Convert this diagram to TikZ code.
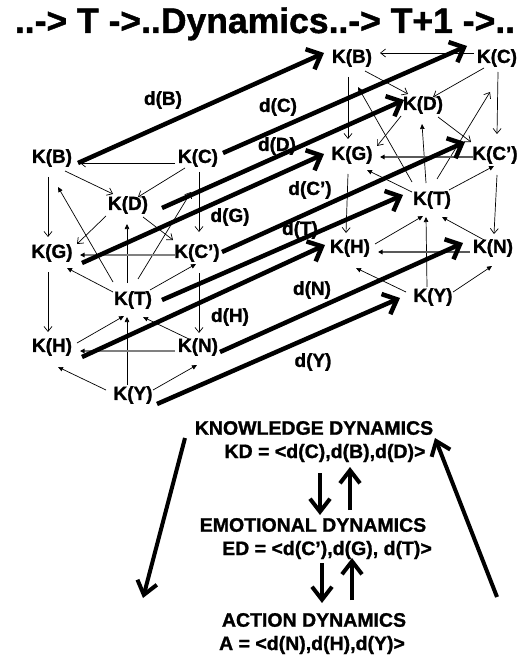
\documentclass[tikz,border=0pt]{standalone}
\usepackage{fontspec}
\setmainfont{Liberation Sans}
\newfontfamily\boldsans{Liberation Sans Bold}[FakeBold=1.2]
\usetikzlibrary{arrows.meta}
\newcommand\ed[5]{\draw[#1] ([shift={(#3)}]#2.center) -- ([shift={(#5)}]#4.center);}
\newcommand\graphedges[3]{%
  \ed{ov}{#1C}{-23,#3}{#1B}{28,#3}
  \ed{ov}{#1B}{13,13}{#1D}{-15,-11}
  \ed{ov}{#1C}{-13,10}{#1D}{10,-8}
  \ed{ov}{#1B}{-4,19}{#1G}{-4,-16}
  \ed{ov}{#1C}{1,14}{#1Cp}{2,-21}
  \ed{ov}{#1D}{-22,11}{#1G}{25,-9}
  \ed{ov}{#1D}{15,12}{#1Cp}{-24,-13}
  \ed{ov}{#1G}{-4,19}{#1H}{-4,-15}
  \ed{ov}{#1Cp}{2,20}{#1N}{1,-14}
  \ed{fv}{#1T}{-20,-18}{#1B}{6,29}
  \ed{fv}{#1T}{-6,-17}{#1D}{-1,19}
  \ed{ov}{#1T}{5,-21}{#1C}{-7,34}
  \ed{fv}{#1T}{-20,-8}{#1G}{15,15}
  \ed{fv}{#1T}{17,-10}{#1Cp}{-1,11}
  \ed{gv=#2}{#1Cp}{-22,2}{#1G}{28,2}
  \ed{fv}{#1H}{25,-4}{#1T}{-9,16}
  \ed{fv}{#1Y}{-6,-10}{#1T}{-6,17}
  \ed{fv}{#1N}{-7,-7}{#1T}{10,17}
  \ed{gv=#2}{#1N}{-23,4}{#1H}{28,4}
  \ed{fv}{#1Y}{-27,-5}{#1H}{6,20}
  \ed{fv}{#1Y}{20,-5}{#1N}{-1,18}
}
\begin{document}
\begin{tikzpicture}[x=1pt,y=-1pt,
  kn/.style={font=\boldsans\fontsize{19}{22}\selectfont, inner sep=1pt},
  lbl/.style={font=\boldsans\fontsize{19}{22}\selectfont, inner sep=1pt},
  bt/.style={font=\boldsans\fontsize{19.5}{22}\selectfont, inner sep=1pt},
  ttl/.style={font=\boldsans\fontsize{35.5}{40}\selectfont, inner sep=0pt},
  ov/.style={line width=0.7pt, -{Straight Barb[length=5pt,width=8pt]}},
  fv/.style={line width=0.7pt, -{Triangle[length=5pt,width=4.5pt]}},
  gv/.style={line width=1.4pt, draw=#1, -{Triangle[length=4.5pt,width=4.5pt,color=black]}},
  big/.style={line width=4.5pt, -{Straight Barb[length=12pt,width=22pt]}},
  mid/.style={line width=4pt, -{Straight Barb[length=13pt,width=20pt]}},
]
\useasboundingbox (0,0) rectangle (518,660);
\fill[white] (0,0) rectangle (518,660);

\node[ttl, anchor=base] (title) at (265,33) {..-> T ->..Dynamics..-> T+1 ->..};

% left graph (time T)
\node[kn] (LB) at (52,158) {K(B)};
\node[kn] (LC) at (198,158) {K(C)};
\node[kn] (LD) at (128,205) {K(D)};
\node[kn] (LG) at (52,253) {K(G)};
\node[kn] (LCp) at (197,253) {K(C’)};
\node[kn] (LT) at (133,300) {K(T)};
\node[kn] (LH) at (52,347) {K(H)};
\node[kn] (LN) at (198,347) {K(N)};
\node[kn] (LY) at (133,395) {K(Y)};

% right graph (time T+1)
\node[kn] (RB) at (352,58) {K(B)};
\node[kn] (RC) at (497,58) {K(C)};
\node[kn] (RD) at (423,105) {K(D)};
\node[kn] (RG) at (352,155) {K(G)};
\node[kn] (RCp) at (495,155) {K(C’)};
\node[kn] (RT) at (432,200) {K(T)};
\node[kn] (RH) at (350,248) {K(H)};
\node[kn] (RN) at (493,248) {K(N)};
\node[kn] (RY) at (433,297) {K(Y)};

\graphedges{L}{gray}{5}
\graphedges{R}{black!65}{-5}

% dynamics arrows
\draw[big] ([shift={(26,5)}]LB.center) -- ([shift={(-28,-5)}]RB.center);
\draw[big] ([shift={(25,-5)}]LC.center) -- ([shift={(-30,-12)}]RC.center);
\draw[big] ([shift={(34,3)}]LD.center) -- ([shift={(-19,-5)}]RD.center);
\draw[big] ([shift={(30,10)}]LG.center) -- ([shift={(-28,-1)}]RG.center);
\draw[big] ([shift={(25,-1)}]LCp.center) -- ([shift={(-30,-13)}]RCp.center);
\draw[big] ([shift={(29,0)}]LT.center) -- ([shift={(-29,-5)}]RT.center);
\draw[big] ([shift={(30,10)}]LH.center) -- ([shift={(-25,-3)}]RH.center);
\draw[big] ([shift={(22,5)}]LN.center) -- ([shift={(-30,-5)}]RN.center);
\draw[big] ([shift={(24,9)}]LY.center) -- ([shift={(-33,1)}]RY.center);

\node[lbl] (dB) at (163,100) {d(B)};
\node[lbl] (dC) at (278,107) {d(C)};
\node[lbl] (dD) at (277,146) {d(D)};
\node[lbl] (dCp) at (310,190) {d(C’)};
\node[lbl] (dG) at (230,217) {d(G)};
\node[lbl] (dT) at (300,230) {d(T)};
\node[lbl] (dH) at (230,317) {d(H)};
\node[lbl] (dN) at (312,290) {d(N)};
\node[lbl] (dY) at (313,362) {d(Y)};

% bottom block
\node[bt] (kn) at (314,428) {KNOWLEDGE DYNAMICS};
\node[bt] (kd) at (325,453) {KD = <d(C),d(B),d(D)>};
\node[bt] (en) at (313,525) {EMOTIONAL DYNAMICS};
\node[bt] (edn) at (327,550) {ED = <d(C’),d(G), d(T)>};
\node[bt] (an) at (314,620) {ACTION DYNAMICS};
\node[bt] (ad) at (312,645) {A = <d(N),d(H),d(Y)>};

\draw[mid] ([shift={(-5,20)}]kd.center) -- ([shift={(7,-10)}]en.center);
\draw[mid] ([shift={(37,-15)}]en.center) -- ([shift={(25,14)}]kd.center);
\draw[mid] ([shift={(-5,13)}]edn.center) -- ([shift={(8,-17)}]an.center);
\draw[mid] ([shift={(38,-20)}]an.center) -- ([shift={(25,8)}]edn.center);

\coordinate (lend) at (143,598);
\coordinate (rstart) at (497,597);
\draw[mid] ([shift={(-129,10)}]kn.center) -- (lend);
\draw[mid] (rstart) -- ([shift={(121,10)}]kn.center);
\end{tikzpicture}
\end{document}
